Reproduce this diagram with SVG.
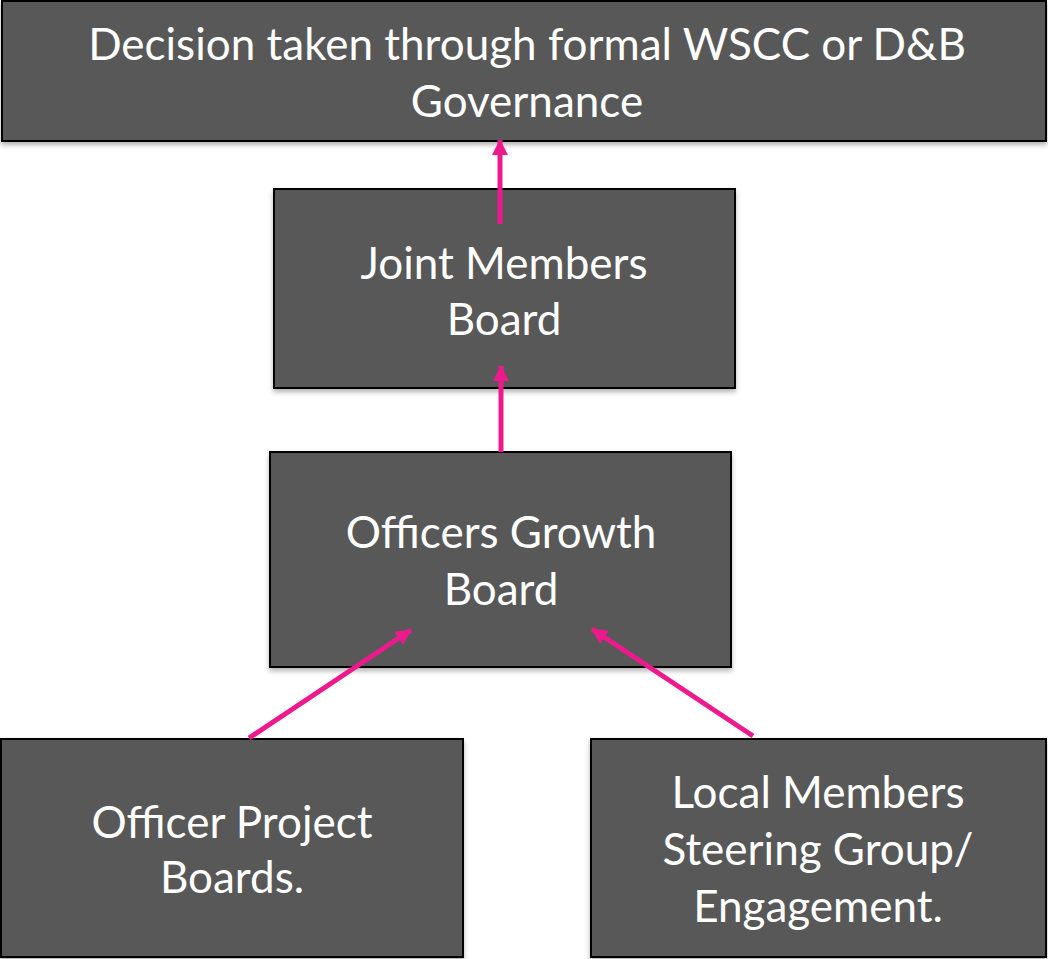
<svg xmlns="http://www.w3.org/2000/svg" width="1048" height="959" viewBox="0 0 1048 959">
<style>
.box{fill:#595959;stroke:#000;stroke-width:2;filter:url(#sh)}
.t{fill:#fff;font-family:Lato,"Open Sans",sans-serif;font-size:44px;text-anchor:middle}
.c{stroke:#EC1A8C;stroke-width:5;fill:none;marker-end:url(#ah)}
</style>
<defs>
<filter id="sh" x="-5%" y="-5%" width="110%" height="120%">
<feDropShadow dx="0" dy="3" stdDeviation="2.5" flood-color="#000" flood-opacity="0.3"/>
</filter>
<marker id="ah" markerWidth="16" markerHeight="16" viewBox="0 0 16 16" refX="15" refY="8" orient="auto" markerUnits="userSpaceOnUse">
<path d="M0,0 L16,8 L0,16 Z" fill="#EC1A8C"/>
</marker>
</defs>
<g id="n1"><rect class="box" x="2" y="1" width="1044" height="140"/><text class="t" x="527" y="60">Decision taken through formal WSCC or D&amp;B</text><text class="t" x="527" y="117">Governance</text></g>
<g id="n2"><rect class="box" x="274" y="189" width="461" height="199"/><text class="t" x="504" y="279">Joint Members</text><text class="t" x="504" y="335">Board</text></g>
<g id="n3"><rect class="box" x="270" y="452" width="461" height="215"/><text class="t" x="501" y="548">Officers Growth</text><text class="t" x="501" y="605">Board</text></g>
<g id="n4"><rect class="box" x="1" y="739" width="462" height="218"/><text class="t" x="232" y="838">Officer Project</text><text class="t" x="232" y="893">Boards.</text></g>
<g id="n5"><rect class="box" x="591" y="739" width="455" height="218"/><text class="t" x="818" y="808">Local Members</text><text class="t" x="818" y="865">Steering Group/</text><text class="t" x="818" y="922">Engagement.</text></g>
<g id="connectors">
<path class="c" d="M500,224 L500,140"/>
<path class="c" d="M501,452 L501,366"/>
<path class="c" d="M249,738 L411,630"/>
<path class="c" d="M753,736 L592,629"/>
</g>
</svg>
